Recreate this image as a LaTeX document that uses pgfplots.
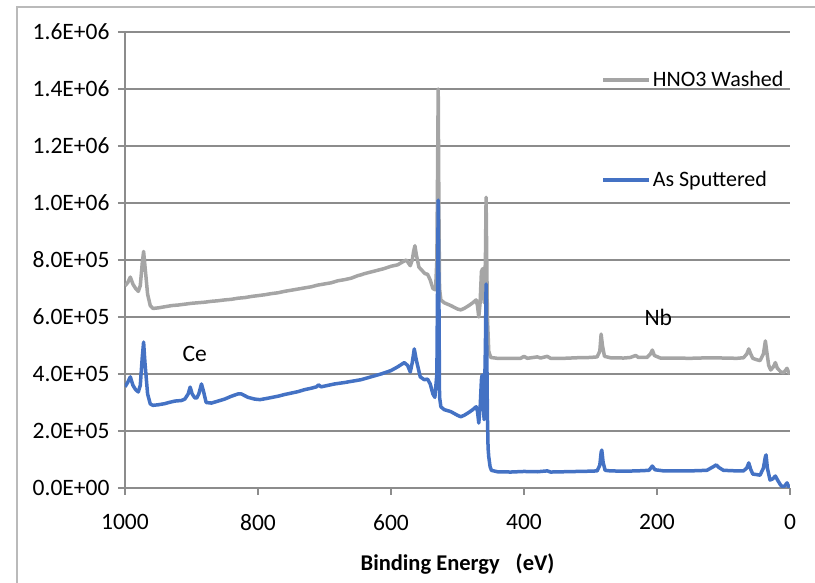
\documentclass[border=0pt]{standalone}
\usepackage{pgfplots}
\pgfplotsset{compat=1.18}
\usepackage{fontspec}
\setmainfont{Carlito}
\definecolor{grayline}{RGB}{165,165,165}
\definecolor{blueline}{RGB}{68,114,196}
\definecolor{gridc}{RGB}{140,140,140}
\begin{document}
\begin{tikzpicture}
\useasboundingbox (-125pt,-95pt) rectangle (690pt,488pt);
\draw[gridc!60, line width=1.2pt] (-108pt,-100pt) -- (-108pt,481pt) -- (700pt,481pt);
\begin{axis}[
  scale only axis,
  width=665pt, height=456pt,
  x dir=reverse,
  xmin=0, xmax=1000, ymin=0, ymax=1600000,
  xtick={0,200,400,600,800,1000},
  xticklabel style={/pgf/number format/set thousands separator={}},
  ytick={0,200000,400000,600000,800000,1000000,1200000,1400000,1600000},
  yticklabels={0.0E+00,2.0E+05,4.0E+05,6.0E+05,8.0E+05,1.0E+06,1.2E+06,1.4E+06,1.6E+06},
  scaled y ticks=false,
  /pgf/number format/assume math mode=true,
  axis x line*=bottom, axis y line*=left,
  axis line style={gridc, line width=1.2pt, -},
  tick style={gridc, line width=1.2pt},
  tick align=outside, major tick length=7pt,
  ymajorgrids, grid style={gridc, line width=1.2pt},
  ticklabel style={font=\fontsize{23.5}{26}\selectfont, text=black},
  yticklabel style={xshift=-5pt},
  xticklabel style={yshift=-16pt},
  xlabel={\textbf{Binding Energy\hspace{16pt}(eV)}},
  xlabel style={font=\fontsize{22.5}{26}\selectfont, at={(axis description cs:0.5,0)}, anchor=center, yshift=-76pt},
  legend style={draw=none, fill=none, at={(0.716,0.918)}, anchor=north west, inner sep=0pt, row sep=79pt, font=\fontsize{22}{25}\selectfont},
  legend cell align=left,
  legend image code/.code={\draw[#1] (0pt,0pt) -- (46pt,0pt);},
  every axis plot/.append style={line width=3.5pt, line join=round},
]
\addplot[grayline] coordinates {
(1000,710000) (996,720000) (992,740000) (988,715000) (984,700000) (980,690000) (977,710000) (974,790000) (972,830000) (970,780000) (966,680000) (962,640000) (958,630000) (950,632000) (940,636000) (930,640000) (920,642000) (910,645000) (900,648000) (890,650000) (880,652000) (870,655000) (860,657000) (850,660000) (840,662000) (830,666000) (820,668000) (810,672000) (800,675000) (790,678000) (780,682000) (770,685000) (760,690000) (750,694000) (740,698000) (730,702000) (720,706000) (710,712000) (700,716000) (690,720000) (680,727000) (670,731000) (660,736000) (650,745000) (645,748000) (640,752000) (630,758000) (620,764000) (610,770000) (600,778000) (590,783000) (585,790000) (577,800000) (574,790000) (571,780000) (568,800000) (566,830000) (564,850000) (562,820000) (558,775000) (554,765000) (549,752000) (545,750000) (541,730000) (537,700000) (533,695000) (531,800000) (530,1100000) (529,1400000) (528,1000000) (527,700000) (525,660000) (520,650000) (510,640000) (500,628000) (495,625000) (490,630000) (483,640000) (477,650000) (472,660000) (470,640000) (468,600000) (466,650000) (464,760000) (462,770000) (460,650000) (458,800000) (457,1020000) (456,800000) (455,600000) (453,480000) (450,458000) (440,455000) (420,455000) (405,455000) (400,462000) (395,455000) (380,460000) (375,456000) (365,462000) (360,455000) (340,455000) (320,457000) (300,458000) (290,460000) (286,480000) (284,540000) (282,500000) (279,462000) (270,457000) (250,456000) (240,458000) (232,465000) (228,458000) (215,458000) (210,470000) (207,484000) (204,465000) (195,456000) (180,456000) (150,455000) (120,457000) (100,456000) (80,455000) (70,457000) (65,470000) (62,488000) (59,470000) (56,455000) (50,450000) (45,447000) (40,470000) (37,516000) (35,480000) (32,430000) (29,414000) (25,425000) (22,440000) (19,420000) (14,408000) (10,404000) (7,412000) (4.5,420000) (2,405000) (0,400000)
};
\addlegendentry{HNO3 Washed}
\addplot[blueline] coordinates {
(1000,355000) (996,370000) (992,390000) (988,360000) (984,345000) (980,337000) (977,360000) (974,460000) (972,512000) (970,440000) (966,330000) (962,295000) (958,290000) (950,292000) (940,296000) (934,300000) (925,305000) (915,307000) (910,312000) (905,330000) (902,354000) (899,330000) (895,316000) (892,316000) (889,330000) (885,365000) (882,340000) (878,300000) (870,298000) (860,305000) (850,312000) (840,322000) (830,330000) (825,330000) (815,318000) (805,312000) (797,310000) (785,315000) (770,322000) (760,328000) (750,333000) (740,338000) (730,345000) (720,350000) (712,355000) (709,362000) (705,355000) (695,360000) (685,365000) (670,370000) (660,374000) (645,380000) (630,390000) (615,400000) (600,412000) (590,425000) (580,440000) (575,430000) (571,407000) (568,440000) (565,488000) (562,450000) (556,390000) (550,380000) (545,382000) (541,365000) (537,330000) (534,318000) (531,400000) (530,700000) (529,1010000) (528,700000) (527,320000) (525,285000) (520,275000) (510,268000) (500,255000) (495,250000) (490,255000) (483,265000) (477,275000) (472,285000) (470,270000) (468,228000) (466,280000) (464,380000) (463,396000) (461,300000) (460,240000) (458,500000) (457,716000) (456,500000) (455,250000) (454,140000) (453,110000) (451,75000) (449,62000) (440,57000) (420,56000) (400,58000) (380,57000) (365,60000) (360,56000) (340,57000) (320,58000) (300,59000) (290,60000) (286,80000) (284,125000) (283,133000) (281,90000) (278,62000) (270,60000) (250,59000) (230,60000) (212,62000) (207,77000) (203,64000) (190,60000) (150,60000) (125,62000) (115,75000) (111,81000) (107,72000) (100,62000) (80,60000) (70,60000) (65,70000) (62,88000) (59,65000) (56,49000) (50,47000) (45,45000) (40,70000) (37,110000) (36,116000) (34,70000) (30,28000) (26,32000) (22,42000) (18,25000) (14,10000) (10,3000) (7,10000) (4.5,18000) (2,5000) (0,0)
};
\addlegendentry{As Sputtered}
\node[font=\fontsize{23.5}{26}\selectfont] at (axis cs:895,470000) {Ce};
\node[font=\fontsize{23.5}{26}\selectfont] at (axis cs:198,600000) {Nb};
\end{axis}
\end{tikzpicture}
\end{document}
